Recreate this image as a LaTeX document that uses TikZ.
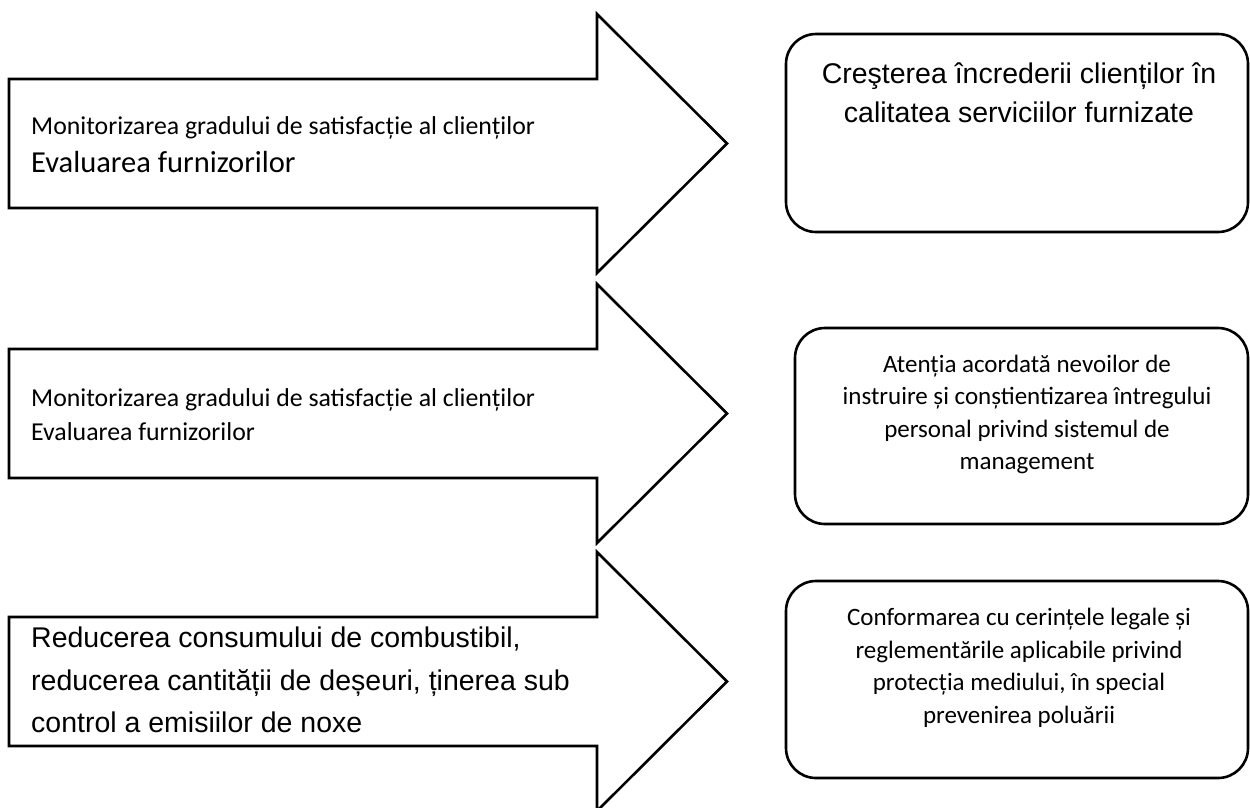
\documentclass[tikz,border=0pt]{standalone}
\usepackage{fontspec}
\setmainfont{Carlito}
\newfontfamily\aptosfont{Liberation Sans}

\begin{document}
\begin{tikzpicture}[
  x=1pt,
  y=-1pt,
  line join=miter,
  blockarrow/.style={draw=black,line width=2.6pt},
  goalbox/.style={draw=black,line width=2.6pt,rounded corners=30pt},
  calibritext/.style={inner sep=0pt,align=left,font=\fontsize{25.8}{34}\selectfont},
  aptostext/.style={inner sep=0pt,align=left,font=\aptosfont\fontsize{28.5}{42.5}\selectfont},
  goaltext/.style={inner sep=0pt,align=center,font=\fontsize{25}{32.5}\selectfont}
]
  \useasboundingbox (0,0) rectangle (1250,807);

  % Block arrows: body 129 high, head reaching 65 past it on each side.
  \foreach \t [count=\i] in {79,349,617} {
    \coordinate (tail\i) at (9,\t);
    \coordinate (tip\i) at (727,\t+64.5);
    \draw[blockarrow] (tail\i) -- (597,\t) -- (597,\t-65) -- (tip\i)
      -- (597,\t+194) -- (597,\t+129) -- (9,\t+129) -- cycle;
  }

  % Result boxes on the right.
  \draw[goalbox] (786,34) rectangle (1248,232);
  \draw[goalbox] (795,328) rectangle (1248,524);
  \draw[goalbox] (786,581) rectangle (1248,778);

  % Texts inside the arrows.
  \node[calibritext,anchor=west] (act1) at (31,128)
    {Monitorizarea gradului de satisfacție al clienților};
  \node[calibritext,anchor=west,font=\fontsize{30.5}{36}\selectfont] (act1b) at (31,162)
    {Evaluarea furnizorilor};
  \node[calibritext,anchor=west] (act2) at (31,415)
    {Monitorizarea gradului de satisfacție al clienților\\Evaluarea furnizorilor};
  \node[aptostext,anchor=west] (act3) at (31,680)
    {Reducerea consumului de combustibil,\\reducerea cantității de deșeuri, ținerea sub\\control a emisiilor de noxe};

  % Texts inside the boxes.
  \node[goaltext,font=\aptosfont\fontsize{28.5}{39}\selectfont] (goal1) at (1019,92.5)
    {Creşterea încrederii clienților în\\calitatea serviciilor furnizate};
  \node[goaltext] (goal2) at (1027,414.5)
    {Atenția acordată nevoilor de\\instruire și conștientizarea întregului\\personal privind sistemul de\\management};
  \node[goaltext] (goal3) at (1019,668)
    {Conformarea cu cerințele legale și\\reglementările aplicabile privind\\protecția mediului, în special\\prevenirea poluării};
\end{tikzpicture}
\end{document}
